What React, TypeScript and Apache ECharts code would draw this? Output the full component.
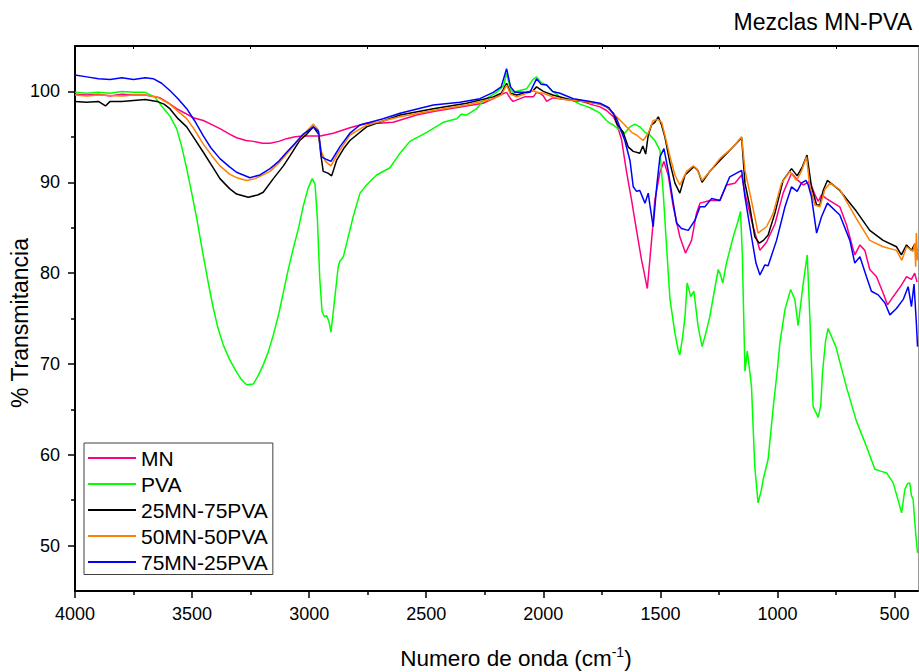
import React, { useEffect, useRef } from "react";
import * as echarts from "echarts";

const FONT = "'Liberation Sans', Arial, Helvetica, sans-serif";

const seriesNames = ["MN", "PVA", "25MN-75PVA", "50MN-50PVA", "75MN-25PVA"];
const seriesColors = ["#FF0080", "#00FF00", "#000000", "#FF8000", "#0000FF"];

const xMajorTicks = [500, 1000, 1500, 2000, 2500, 3000, 3500, 4000];
const xMinorTicks = [750, 1250, 1750, 2250, 2750, 3250, 3750];
const yMajorTicks = [50, 60, 70, 80, 90, 100];
const yMinorTicks = [55, 65, 75, 85, 95];

// [wavenumber cm-1, % transmittance]
const mnData: [number, number][] = [
  [4000, 99.7], [3950, 99.6], [3900, 99.7], [3850, 99.5], [3800, 99.7], [3750, 99.6], [3700, 99.6],
  [3637, 99.3], [3600, 98.7], [3566, 98.1], [3530, 97.6], [3495, 97.1], [3452, 96.8], [3420, 96.4],
  [3381, 95.9], [3340, 95.3], [3310, 94.9], [3270, 94.6], [3238, 94.5], [3200, 94.3], [3167, 94.3],
  [3130, 94.5], [3096, 94.8], [3060, 95.0], [3025, 95.1], [2982, 95.1], [2953, 95.1], [2897, 95.4],
  [2826, 96.0], [2755, 96.5], [2700, 96.5], [2641, 96.6], [2541, 97.4], [2470, 97.8], [2399, 98.1],
  [2328, 98.4], [2257, 98.7], [2214, 99.2], [2186, 99.6], [2157, 99.9], [2140, 99.2], [2129, 98.9],
  [2080, 99.4], [2043, 99.4], [2029, 99.9], [2015, 99.8], [2000, 99.5], [1986, 98.9], [1960, 99.3],
  [1929, 99.2], [1872, 99.0], [1844, 99.0], [1800, 98.6], [1758, 98.3], [1730, 97.9], [1700, 97.2],
  [1687, 96.5], [1666, 94.7], [1645, 91.2], [1623, 88.0], [1602, 84.7], [1581, 81.5], [1566, 79.6],
  [1556, 78.3], [1545, 81.5], [1533, 85.0], [1524, 88.0], [1502, 91.1], [1485, 92.3], [1467, 90.8],
  [1445, 87.3], [1417, 84.0], [1393, 82.2], [1367, 83.6], [1346, 86.6], [1331, 87.7], [1289, 88.0],
  [1246, 88.0], [1218, 89.7], [1182, 89.9], [1153, 90.8], [1139, 88.8], [1104, 85.1], [1075, 82.5],
  [1047, 83.4], [1011, 85.4], [976, 88.8], [940, 91.0], [912, 90.2], [890, 89.7], [862, 90.1],
  [840, 88.6], [826, 87.9], [812, 88.6], [791, 88.2], [734, 87.3], [705, 85.3], [680, 82.9],
  [670, 82.0], [648, 83.1], [627, 82.5], [606, 80.4], [577, 79.6], [549, 77.8], [530, 76.5],
  [506, 77.4], [470, 78.7], [449, 79.6], [428, 79.3], [414, 80.0], [404, 79.0],
];

const pvaData: [number, number][] = [
  [4000, 99.9], [3950, 99.8], [3900, 99.9], [3850, 99.8], [3800, 100.0], [3750, 99.9], [3700, 99.9],
  [3660, 99.4], [3630, 98.4], [3595, 97.3], [3566, 95.9], [3545, 94.0], [3523, 91.5], [3500, 88.6],
  [3480, 86.0], [3452, 81.9], [3430, 78.8], [3409, 76.1], [3390, 74.0], [3367, 72.1], [3340, 70.5],
  [3310, 69.1], [3290, 68.3], [3267, 67.7], [3238, 67.8], [3220, 68.6], [3196, 69.9], [3175, 71.3],
  [3153, 73.2], [3130, 75.5], [3110, 77.9], [3090, 80.3], [3068, 82.7], [3045, 85.0], [3025, 87.4],
  [3005, 89.3], [2987, 90.4], [2975, 89.8], [2965, 86.0], [2955, 79.5], [2945, 75.8], [2935, 75.2],
  [2925, 75.3], [2915, 74.6], [2907, 73.5], [2898, 75.5], [2890, 77.4], [2876, 80.7], [2869, 81.3],
  [2854, 81.8], [2835, 83.8], [2812, 86.2], [2783, 88.8], [2755, 89.7], [2712, 90.8], [2655, 91.6],
  [2612, 93.2], [2570, 94.5], [2498, 95.5], [2427, 96.6], [2370, 97.0], [2350, 97.5], [2328, 97.4],
  [2285, 98.1], [2257, 99.0], [2200, 99.9], [2170, 100.6], [2157, 102.0], [2140, 100.2], [2129, 99.9],
  [2071, 100.3], [2045, 101.3], [2029, 101.6], [2010, 101.0], [1986, 100.7], [1960, 100.0], [1929, 99.4],
  [1872, 99.0], [1844, 98.6], [1800, 98.2], [1758, 97.6], [1730, 96.8], [1716, 96.5], [1701, 96.3],
  [1673, 95.7], [1652, 95.4], [1630, 96.1], [1609, 96.4], [1588, 96.1], [1566, 95.5], [1545, 95.2],
  [1524, 94.6], [1502, 93.5], [1488, 88.8], [1467, 80.2], [1459, 77.1], [1438, 73.4], [1424, 71.5],
  [1417, 71.0], [1405, 73.0], [1395, 75.2], [1386, 78.9], [1378, 78.2], [1371, 77.4], [1357, 78.0],
  [1339, 74.1], [1322, 71.9], [1305, 73.5], [1289, 75.2], [1270, 78.0], [1253, 80.4], [1243, 79.8],
  [1234, 78.9], [1218, 81.1], [1189, 84.0], [1170, 85.6], [1158, 86.8], [1150, 82.0], [1146, 77.1],
  [1139, 69.2], [1129, 71.4], [1120, 69.5], [1111, 67.5], [1104, 63.0], [1097, 58.7], [1083, 54.7],
  [1070, 56.0], [1061, 57.3], [1040, 59.5], [1018, 65.3], [1000, 69.5], [990, 72.3], [968, 76.0],
  [944, 78.2], [926, 77.1], [912, 74.2], [890, 78.9], [873, 82.0], [862, 75.2], [848, 65.3],
  [826, 64.1], [815, 65.5], [808, 69.0], [795, 72.5], [784, 73.9], [751, 71.9], [706, 67.5],
  [663, 63.7], [620, 60.9], [584, 58.4], [560, 58.2], [534, 58.0], [506, 56.9], [485, 55.0],
  [470, 53.6], [456, 56.2], [445, 56.8], [435, 56.9], [428, 55.5], [421, 55.1], [410, 51.4], [402, 49.2],
];

const mn25Data: [number, number][] = [
  [4000, 98.9], [3950, 98.8], [3900, 98.9], [3870, 98.4], [3850, 98.9], [3800, 98.9], [3750, 99.0],
  [3700, 99.1], [3650, 98.9], [3620, 98.6], [3595, 98.1], [3560, 97.0], [3523, 96.1], [3490, 94.8],
  [3452, 93.3], [3415, 91.8], [3381, 90.4], [3340, 89.3], [3310, 88.7], [3260, 88.35], [3220, 88.6],
  [3196, 88.9], [3153, 90.4], [3110, 91.8], [3082, 92.9], [3040, 94.6], [3010, 95.3], [2982, 96.1],
  [2960, 95.3], [2950, 93.0], [2940, 91.2], [2920, 91.0], [2904, 90.7], [2883, 92.4], [2850, 93.8],
  [2826, 94.6], [2755, 96.1], [2612, 97.4], [2470, 98.1], [2328, 98.7], [2214, 99.4], [2180, 99.8],
  [2157, 100.9], [2140, 99.8], [2114, 99.6], [2071, 99.9], [2043, 100.1], [2029, 100.5], [2000, 100.0],
  [1960, 99.6], [1929, 99.4], [1872, 99.0], [1800, 98.8], [1758, 98.6], [1730, 98.3], [1700, 97.6],
  [1687, 96.5], [1659, 95.5], [1638, 93.9], [1616, 93.4], [1588, 93.2], [1575, 94.0], [1563, 93.1],
  [1552, 95.2], [1538, 96.3], [1524, 96.6], [1509, 97.2], [1495, 96.3], [1481, 95.0], [1459, 92.1],
  [1438, 89.9], [1417, 88.8], [1395, 90.8], [1374, 91.3], [1357, 91.7], [1340, 91.3], [1322, 90.0],
  [1289, 91.2], [1246, 92.4], [1189, 93.9], [1153, 94.9], [1139, 89.9], [1118, 87.3], [1097, 84.0],
  [1078, 83.3], [1060, 83.6], [1040, 84.2], [1011, 86.6], [976, 90.2], [940, 91.5], [916, 90.7],
  [894, 91.7], [874, 93.0], [855, 89.5], [833, 87.5], [819, 87.5], [805, 89.1], [787, 90.2],
  [734, 89.1], [663, 86.8], [606, 84.7], [549, 83.6], [492, 82.9], [471, 82.0], [449, 83.1],
  [428, 82.5], [414, 83.2], [404, 82.5],
];

const mn50Data: [number, number][] = [
  [4000, 99.6], [3950, 99.5], [3900, 99.6], [3800, 99.5], [3750, 99.6], [3700, 99.6], [3650, 99.4],
  [3595, 98.6], [3560, 97.8], [3523, 97.0], [3490, 95.8], [3452, 94.2], [3415, 92.9], [3381, 91.8],
  [3340, 90.9], [3310, 90.5], [3267, 90.2], [3230, 90.4], [3167, 91.2], [3130, 92.1], [3096, 93.1],
  [3060, 94.2], [3025, 95.2], [2982, 96.4], [2962, 95.8], [2950, 93.5], [2930, 92.3], [2907, 91.8],
  [2890, 92.6], [2869, 93.5], [2826, 95.2], [2755, 96.3], [2612, 97.2], [2470, 97.9], [2328, 98.5],
  [2214, 99.2], [2180, 99.6], [2157, 100.7], [2140, 99.7], [2114, 99.4], [2071, 99.8], [2043, 100.1],
  [2029, 99.9], [2000, 99.8], [1960, 99.4], [1929, 99.2], [1872, 99.0], [1800, 98.8], [1758, 98.6],
  [1730, 98.3], [1687, 97.2], [1659, 96.5], [1645, 96.1], [1623, 95.5], [1602, 95.2], [1574, 94.6],
  [1552, 95.4], [1531, 96.8], [1510, 96.9], [1495, 96.6], [1481, 95.2], [1459, 92.8], [1438, 90.8],
  [1417, 89.7], [1388, 91.2], [1360, 91.8], [1345, 91.5], [1322, 90.2], [1289, 91.2], [1246, 92.6],
  [1189, 93.9], [1153, 95.0], [1139, 91.3], [1118, 88.8], [1097, 86.2], [1083, 84.4], [1047, 85.1],
  [1018, 86.6], [983, 89.9], [947, 91.2], [919, 90.2], [898, 91.2], [876, 92.8], [862, 89.5],
  [840, 87.5], [819, 87.3], [798, 89.2], [776, 89.9], [734, 89.2], [663, 86.0], [606, 83.6],
  [549, 82.9], [492, 82.5], [469, 81.4], [449, 82.9], [421, 82.4], [414, 83.3], [410, 80.7],
  [407, 84.4], [402, 81.4],
];

const mn75Data: [number, number][] = [
  [4000, 101.8], [3950, 101.6], [3900, 101.4], [3850, 101.3], [3800, 101.5], [3750, 101.3], [3700, 101.5],
  [3666, 101.4], [3630, 100.9], [3595, 100.1], [3560, 99.2], [3523, 98.1], [3490, 96.8], [3452, 95.1],
  [3420, 93.8], [3381, 92.6], [3340, 91.7], [3310, 91.1], [3253, 90.5], [3210, 90.8], [3167, 91.5],
  [3130, 92.3], [3096, 93.3], [3060, 94.3], [3025, 95.3], [2982, 96.1], [2960, 95.6], [2947, 92.8],
  [2925, 92.5], [2907, 92.3], [2890, 93.0], [2869, 93.9], [2826, 95.4], [2783, 96.3], [2684, 97.0],
  [2612, 97.6], [2470, 98.5], [2356, 98.8], [2271, 99.2], [2214, 99.9], [2180, 100.5], [2157, 102.5],
  [2140, 100.5], [2121, 99.9], [2057, 99.9], [2040, 100.8], [2029, 101.4], [2010, 100.8], [1986, 100.7],
  [1960, 100.0], [1929, 99.8], [1872, 99.2], [1800, 98.9], [1758, 98.7], [1720, 98.2], [1687, 97.0],
  [1652, 94.6], [1630, 92.4], [1616, 89.5], [1602, 89.0], [1588, 89.1], [1566, 87.7], [1552, 88.8],
  [1545, 87.5], [1531, 85.1], [1516, 89.5], [1502, 92.8], [1485, 93.7], [1467, 91.3], [1445, 87.7],
  [1431, 85.5], [1410, 84.9], [1381, 84.7], [1353, 85.8], [1331, 87.3], [1310, 87.3], [1282, 88.2],
  [1246, 88.0], [1204, 90.6], [1153, 91.3], [1139, 88.4], [1111, 84.0], [1092, 81.1], [1075, 79.8],
  [1054, 80.9], [1040, 80.8], [1004, 83.6], [968, 87.3], [940, 89.5], [916, 89.0], [898, 89.9],
  [879, 90.2], [870, 89.8], [855, 88.4], [833, 84.4], [812, 86.2], [787, 87.7], [734, 86.4],
  [691, 83.6], [670, 81.1], [648, 81.8], [620, 79.6], [599, 78.0], [570, 77.6], [541, 76.7],
  [520, 75.4], [492, 76.1], [463, 77.1], [442, 78.5], [428, 76.3], [417, 78.8], [407, 74.5], [402, 71.9],
];

const allData = [mnData, pvaData, mn25Data, mn50Data, mn75Data];

export default function App() {
  const ref = useRef<HTMLDivElement>(null);
  useEffect(() => {
    if (!ref.current) return;
    const chart = echarts.init(ref.current, null, { renderer: "svg" });
    const baseX = { type: "value", min: 400, max: 4000, inverse: true, splitLine: { show: false } };
    const baseY = { type: "value", min: 45, max: 105, splitLine: { show: false } };
    chart.setOption({
      animation: false,
      backgroundColor: "#ffffff",
      textStyle: { fontFamily: FONT, color: "#000" },
      grid: { left: 75, right: 1, top: 46, bottom: 81, outerBoundsMode: "none", containLabel: false },
      xAxis: [
        {
          ...baseX,
          position: "bottom",
          axisLine: { show: true, lineStyle: { color: "#000", width: 2 } },
          axisTick: { show: true, inside: false, length: 7, customValues: xMajorTicks, lineStyle: { color: "#000", width: 1.5 } },
          axisLabel: {
            show: true,
            customValues: xMajorTicks,
            formatter: (v: number) => String(v),
            fontSize: 18,
            color: "#000",
            fontFamily: FONT,
            margin: 14,
          },
        },
        {
          ...baseX,
          position: "bottom",
          axisLine: { show: false },
          axisTick: { show: true, inside: false, length: 4, customValues: xMinorTicks, lineStyle: { color: "#000", width: 1.5 } },
          axisLabel: { show: false },
        },
        {
          ...baseX,
          position: "top",
          axisLine: { show: true, lineStyle: { color: "#000", width: 2 } },
          axisTick: { show: true, inside: true, length: 3, customValues: xMinorTicks, lineStyle: { color: "#000", width: 1 } },
          axisLabel: { show: false },
        },
      ],
      yAxis: [
        {
          ...baseY,
          position: "left",
          axisLine: { show: true, lineStyle: { color: "#000", width: 2 } },
          axisTick: { show: true, inside: false, length: 7, customValues: yMajorTicks, lineStyle: { color: "#000", width: 1.5 } },
          axisLabel: {
            show: true,
            customValues: yMajorTicks,
            formatter: (v: number) => String(v),
            fontSize: 18,
            color: "#000",
            fontFamily: FONT,
            margin: 15,
          },
        },
        {
          ...baseY,
          position: "left",
          axisLine: { show: false },
          axisTick: { show: true, inside: false, length: 4, customValues: yMinorTicks, lineStyle: { color: "#000", width: 1.5 } },
          axisLabel: { show: false },
        },
        {
          ...baseY,
          position: "right",
          axisLine: { show: true, lineStyle: { color: "#9a9a9a", width: 1 } },
          axisTick: { show: false },
          axisLabel: { show: false },
        },
      ],
      legend: {
        show: true,
        orient: "vertical",
        left: 84,
        top: 443,
        padding: [4.5, 5, 2, 4],
        itemGap: 5,
        itemWidth: 48,
        itemHeight: 2,
        icon: "rect",
        borderColor: "#404040",
        borderWidth: 1,
        backgroundColor: "#fff",
        textStyle: { fontSize: 21, color: "#000", fontFamily: FONT, lineHeight: 21 },
        data: seriesNames,
      },
      graphic: [
        {
          type: "text",
          x: 912,
          y: 22,
          style: { text: "Mezclas MN-PVA", fontSize: 23, fontFamily: FONT, fill: "#000", align: "right", verticalAlign: "middle" },
        },
        {
          type: "text",
          x: 20,
          y: 323,
          rotation: Math.PI / 2,
          style: { text: "% Transmitancia", fontSize: 23, fontFamily: FONT, fill: "#000", align: "center", verticalAlign: "middle" },
        },
        {
          type: "text",
          x: 516,
          y: 658,
          style: {
            text: "{a|Numero de onda (cm}{s|-1}{a|)}",
            align: "center",
            verticalAlign: "middle",
            fill: "#000",
            rich: {
              a: { fontSize: 22.5, fontFamily: FONT, fill: "#000", lineHeight: 26 },
              s: { fontSize: 14, fontFamily: FONT, fill: "#000", lineHeight: 16, verticalAlign: "top" },
            },
          },
        },
      ],
      series: seriesNames.map((name, i) => ({
        name,
        type: "line",
        xAxisIndex: 0,
        yAxisIndex: 0,
        data: allData[i],
        symbol: "none",
        showSymbol: false,
        smooth: false,
        color: seriesColors[i],
        lineStyle: { color: seriesColors[i], width: 1.5 },
        z: 2 + i,
      })),
    });
    return () => chart.dispose();
  }, []);
  return <div ref={ref} style={{ position: "fixed", left: 0, top: 0, width: 919, height: 672 }} />;
}
